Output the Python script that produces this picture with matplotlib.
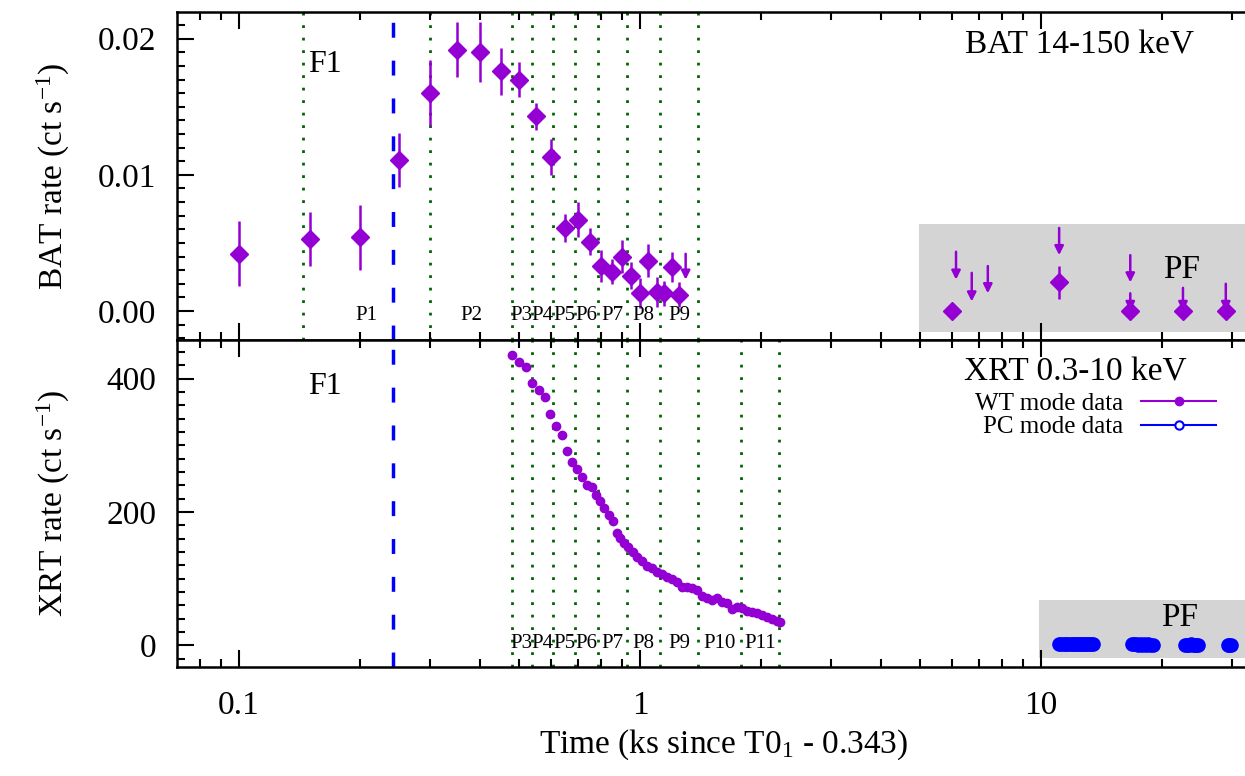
import numpy as np
import matplotlib
matplotlib.use("Agg")
import matplotlib.pyplot as plt
from matplotlib.lines import Line2D
from matplotlib.ticker import FixedLocator, MultipleLocator, FuncFormatter

plt.rcParams['font.family'] = ['Liberation Serif', 'DejaVu Serif']
plt.rcParams['mathtext.fontset'] = 'custom'
plt.rcParams['mathtext.rm'] = 'Liberation Serif'
plt.rcParams['mathtext.it'] = 'Liberation Serif:italic'

# ---------------- data ---------------- #
# BAT 14-150 keV light curve
bat_t = [0.10, 0.15, 0.20, 0.25, 0.30, 0.35, 0.40, 0.45, 0.50, 0.55, 0.60, 0.65,
         0.70, 0.75, 0.80, 0.85, 0.90, 0.95, 1.00, 1.05, 1.10, 1.15, 1.20, 1.25]
bat_rate = [0.0042, 0.0053, 0.0054, 0.0111, 0.0160, 0.0192, 0.0190, 0.0176, 0.0170,
            0.0143, 0.0113, 0.0061, 0.0067, 0.0051, 0.0033, 0.0029, 0.0040, 0.0026,
            0.0013, 0.0037, 0.0014, 0.0013, 0.0032, 0.0012]
bat_err = [0.0024, 0.0020, 0.0024, 0.0020, 0.0024, 0.0020, 0.0022, 0.0017, 0.0013,
           0.0010, 0.0013, 0.0010, 0.0013, 0.0010, 0.0012, 0.0009, 0.0012, 0.0010,
           0.0011, 0.0012, 0.0011, 0.0009, 0.0011, 0.0009]

# BAT points in the PF interval
bat_pf_t = [6.0, 11.1, 16.7, 22.6, 28.9]
bat_pf_rate = [0.0, 0.0021, 0.0, 0.0, 0.0]
bat_pf_err = [0.0, 0.0012, 0.0, 0.0, 0.0]

# BAT upper limits (arrow from -> to)
ul_t = [1.3, 6.14, 6.72, 7.37, 11.1, 16.7, 16.7, 22.6, 28.9]
ul_from = [0.0042, 0.00435, 0.0028, 0.0033, 0.0061, 0.0041, 0.0013, 0.0017, 0.0020]
ul_to = [0.0023, 0.0023, 0.0007, 0.0013, 0.0041, 0.0021, 0.0, 0.0, 0.0]

# XRT WT mode
wt_t = [0.479, 0.499, 0.519, 0.539, 0.560, 0.579, 0.596, 0.617, 0.638, 0.659, 0.678,
        0.698, 0.718, 0.736, 0.758, 0.777, 0.795, 0.815, 0.837, 0.858, 0.875, 0.891,
        0.912, 0.935, 0.959, 0.985, 1.013, 1.039, 1.069, 1.101, 1.133, 1.166, 1.200,
        1.235, 1.270, 1.307, 1.346, 1.385, 1.425, 1.467, 1.509, 1.553, 1.599, 1.645,
        1.693, 1.742, 1.793, 1.845, 1.899, 1.955, 2.012, 2.071, 2.131, 2.193, 2.230]
wt_rate = [436, 425, 417, 393, 383, 373, 347, 329, 315, 292, 275, 265, 252, 240, 238,
           226, 216, 206, 196, 186, 169, 161, 154, 148, 140, 133, 127, 119, 116, 110,
           107, 103, 99, 95, 88, 88, 86, 83, 74, 71, 68, 71, 65, 63, 54, 58, 56, 52,
           50, 48, 46, 42, 40, 37, 35]

# XRT PC mode
pc_t = [11.1, 11.25, 11.4, 11.55, 11.7, 11.85, 12.0, 12.15, 12.3, 12.45, 12.6, 12.75,
        12.9, 13.05, 13.2, 13.35, 13.5,
        16.9, 17.1, 17.3, 17.5, 17.7, 17.9, 18.1, 18.3, 18.5, 18.7, 19.0,
        22.9, 23.15, 23.4, 23.65, 23.9, 24.15, 24.4, 24.7,
        29.2, 29.45, 29.7]
pc_rate = [2.1, 1.8, 2.5, 1.6, 2.2, 1.9, 1.4, 2.0, 1.7, 1.9, 1.6, 2.0, 1.5, 1.8, 1.4,
           1.7, 1.5,
           1.5, 1.3, 1.8, 1.1, 1.4, 1.2, 1.6, 1.0, 1.3, 1.1, 1.2,
           1.2, 0.9, 1.1, 1.3, 0.8, 1.0, 0.9, 1.1,
           0.9, 0.8, 0.7]

# interval boundaries
bat_bounds = [0.1446, 0.30, 0.4786, 0.538, 0.608, 0.688, 0.787, 0.926, 1.122, 1.398]
bat_labels = ['P1', 'P2', 'P3', 'P4', 'P5', 'P6', 'P7', 'P8', 'P9']
xrt_bounds = [0.4786, 0.538, 0.608, 0.688, 0.787, 0.926, 1.122, 1.398, 1.786, 2.226]
xrt_labels = ['P3', 'P4', 'P5', 'P6', 'P7', 'P8', 'P9', 'P10', 'P11']
t_f1 = 0.242
pf_bat_span = (4.97, -0.00152, 0.00638)
pf_xrt_span = (9.9, -19.5, 68.0)

PURPLE = '#9400D3'
GREEN = '#006400'
BLUE = '#0000FF'
GRAY = '#D4D4D4'
XLIM = (0.07006, 37.25)

fig = plt.figure(figsize=(12.45, 7.76), dpi=100)
ax1 = fig.add_axes([0.14217, 0.56186, 0.8779, 0.42268])
ax2 = fig.add_axes([0.14217, 0.14046, 0.8779, 0.42139])


def style_axis(ax):
    ax.set_xscale('log')
    ax.set_xlim(*XLIM)
    ax.tick_params(which='both', direction='in', top=True, right=True,
                   labelsize=24, width=1.5)
    ax.tick_params(which='major', length=12, pad=15)
    ax.tick_params(which='minor', length=6)
    ax.tick_params(axis='x', which='major', pad=17)
    for s in ax.spines.values():
        s.set_linewidth(1.8)
    ax.xaxis.set_major_formatter(FuncFormatter(lambda v, p: '%g' % v))


for ax in (ax1, ax2):
    style_axis(ax)

# ---------------- BAT panel ---------------- #
ax1.set_ylim(-0.00213, 0.02196)
ax1.yaxis.set_major_locator(MultipleLocator(0.01))
ax1.yaxis.set_minor_locator(MultipleLocator(0.001))
ax1.yaxis.set_major_formatter(FuncFormatter(lambda v, p: '%.2f' % v))
ax1.tick_params(axis='x', labelbottom=False)

ax1.fill_between([pf_bat_span[0], 100], pf_bat_span[1], pf_bat_span[2],
                 color=GRAY, lw=0, zorder=0)
for b in bat_bounds:
    ax1.axvline(b, color=GREEN, ls=(0, (1, 3.5)), lw=2, zorder=1)
ax1.axvline(t_f1, color=BLUE, ls=(0, (4.3, 6.6)), lw=2.5, zorder=1)

ax1.errorbar(bat_t, bat_rate, yerr=bat_err, fmt='D', color=PURPLE, ms=9,
             elinewidth=1.8, capsize=0, zorder=3)
ax1.errorbar(bat_pf_t, bat_pf_rate, yerr=bat_pf_err, fmt='D', color=PURPLE, ms=9,
             elinewidth=1.8, capsize=0, zorder=3)
for t, y0, y1 in zip(ul_t, ul_from, ul_to):
    ax1.annotate('', xy=(t, y1), xytext=(t, y0),
                 arrowprops=dict(arrowstyle='-|>', color=PURPLE, lw=1.8,
                                 mutation_scale=13, shrinkA=0, shrinkB=0),
                 zorder=3)

for i, lab in enumerate(bat_labels):
    xc = np.sqrt(bat_bounds[i] * bat_bounds[i + 1])
    ax1.text(xc, -0.0003, lab, ha='center', va='center', fontsize=15)
ax1.text(0.1638, 0.0181, 'F1', ha='center', va='center', fontsize=23)
ax1.text(22.4, 0.0030, 'PF', ha='center', va='center', fontsize=24)
ax1.text(12.5, 0.0195, 'BAT 14-150 keV', ha='center', va='center', fontsize=24)
ax1.set_ylabel('BAT rate (ct s$^{-1}$)', fontsize=24)
ax1.yaxis.set_label_coords(-0.096, 0.5)

# ---------------- XRT panel ---------------- #
ax2.set_ylim(-32.5, 458)
ax2.yaxis.set_major_locator(MultipleLocator(200))
ax2.yaxis.set_minor_locator(MultipleLocator(20))
ax2.xaxis.set_major_locator(FixedLocator([0.1, 1, 10]))

ax2.fill_between([pf_xrt_span[0], 100], pf_xrt_span[1], pf_xrt_span[2],
                 color=GRAY, lw=0, zorder=0)
for b in xrt_bounds:
    ax2.axvline(b, color=GREEN, ls=(0, (1, 3.5)), lw=2, zorder=1)
ax2.axvline(t_f1, color=BLUE, ls=(0, (4.3, 6.6)), lw=2.5, zorder=1)

ax2.plot(wt_t, wt_rate, 'o', color=PURPLE, ms=6, mec=PURPLE, zorder=3)
ax2.plot(pc_t, pc_rate, 'o', color=BLUE, ms=9.5, mec=BLUE, zorder=3)

for i, lab in enumerate(xrt_labels):
    xc = np.sqrt(xrt_bounds[i] * xrt_bounds[i + 1])
    ax2.text(xc, 3.5, lab, ha='center', va='center', fontsize=15)
ax2.text(0.1638, 388, 'F1', ha='center', va='center', fontsize=23)
ax2.text(22.2, 41, 'PF', ha='center', va='center', fontsize=24)
ax2.text(12.16, 410, 'XRT 0.3-10 keV', ha='center', va='center', fontsize=24)

handles = [Line2D([], [], color=PURPLE, lw=1.5, marker='o', ms=6),
           Line2D([], [], color=BLUE, lw=1.5, marker='o', ms=6, mfc='white', mew=1.5)]
ax2.legend(handles, ['WT mode data', 'PC mode data'], loc='upper right',
           bbox_to_anchor=(1216 / 1245, 1 - 392 / 776), bbox_transform=fig.transFigure,
           frameon=False, markerfirst=False, fontsize=18, borderpad=0,
           borderaxespad=0, handlelength=3.0, handletextpad=0.7, labelspacing=0.05)

ax2.set_ylabel('XRT rate (ct s$^{-1}$)', fontsize=24)
ax2.yaxis.set_label_coords(-0.096, 0.5)
ax2.set_xlabel('Time (ks since T0$_1$ - 0.343)', fontsize=24)
ax2.xaxis.set_label_coords(0.5, -0.185)

fig.savefig('out.png', dpi=100)
